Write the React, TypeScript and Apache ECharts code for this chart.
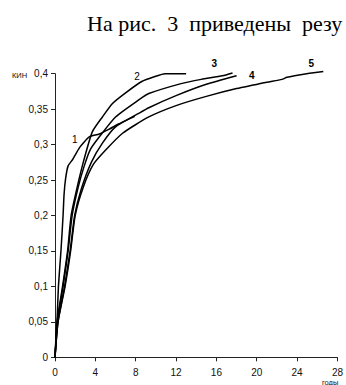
import React, { useEffect, useRef } from "react";
import * as echarts from "echarts";

const xTicks = [0, 4, 8, 12, 16, 20, 24, 28];
const yTicks = [0, 0.05, 0.1, 0.15, 0.2, 0.25, 0.3, 0.35, 0.4];

const curve1: [number, number][] = [
  [0, 0], [0.2, 0.05], [0.34, 0.1], [0.59, 0.15], [0.8, 0.2], [0.9, 0.23], [1.05, 0.252],
  [1.3, 0.27], [1.75, 0.279], [2.15, 0.289], [2.45, 0.296], [2.85, 0.303], [3.4, 0.311],
  [4.4, 0.315], [5.4, 0.322], [6.3, 0.329], [7.3, 0.336], [7.9, 0.34],
];
const curve2: [number, number][] = [
  [0, 0], [0.2, 0.05], [0.75, 0.1], [1.25, 0.15], [1.6, 0.2], [2.2, 0.24], [2.8, 0.275],
  [3.7, 0.318], [4.7, 0.339], [5.7, 0.358], [7, 0.373], [8.6, 0.389], [9.9, 0.396],
  [10.9, 0.4], [13, 0.4],
];
const curve3: [number, number][] = [
  [0, 0], [0.25, 0.05], [0.8, 0.1], [1.3, 0.15], [1.7, 0.2], [2.3, 0.24], [2.9, 0.27],
  [3.5, 0.293], [4.4, 0.311], [6, 0.339], [8.3, 0.363], [9.3, 0.372], [12.5, 0.386],
  [14.5, 0.392], [16.6, 0.397], [17.6, 0.401],
];
const curve4: [number, number][] = [
  [0, 0], [0.3, 0.05], [0.95, 0.1], [1.5, 0.15], [1.95, 0.2], [2.6, 0.237], [3.6, 0.275],
  [4.7, 0.302], [6, 0.325], [8.3, 0.344], [9.3, 0.352], [12, 0.369], [15, 0.385], [18, 0.397],
];
const curve5: [number, number][] = [
  [0, 0], [0.3, 0.05], [1.0, 0.1], [1.55, 0.15], [2.0, 0.2], [2.8, 0.24], [3.8, 0.272],
  [5, 0.292], [6.7, 0.316], [9.3, 0.339], [12, 0.355], [15, 0.368], [18, 0.379],
  [21, 0.388], [22.5, 0.392], [23, 0.395], [24.5, 0.399], [26.6, 0.403],
];
const curves = [curve1, curve2, curve3, curve4, curve5];

const curveLabels = ["1", "2", "3", "4", "5"];
const curveLabelPos: [number, number][] = [
  [1.95, 0.307], [8.13, 0.396], [15.8, 0.414], [19.5, 0.398], [25.4, 0.414],
];
const curveLabelBold = [false, false, true, true, true];

const NB = "\u00A0";
const headerText = `На рис.${NB}${NB}3${NB}${NB}приведены${NB}${NB}резу`;
const yName = "КИН";
const xName = "годы";

export default function App() {
  const ref = useRef<HTMLDivElement>(null);
  useEffect(() => {
    if (!ref.current) return;
    const chart = echarts.init(ref.current, null, { renderer: "svg" });
    const sans = "Liberation Sans";
    const serif = "Liberation Serif";
    chart.setOption({
      animation: false,
      backgroundColor: "#ffffff",
      grid: { left: 55, right: 4, top: 73.7, bottom: 27.7, containLabel: false },
      xAxis: {
        type: "value",
        min: 0,
        max: 28,
        interval: 4,
        splitLine: { show: false },
        axisLine: { lineStyle: { color: "#222", width: 1 } },
        axisTick: { show: true, length: 4, lineStyle: { color: "#222" } },
        axisLabel: {
          color: "#111",
          fontSize: 10,
          fontFamily: sans,
          margin: 10,
          customValues: xTicks,
        },
      },
      yAxis: {
        type: "value",
        min: 0,
        max: 0.4,
        interval: 0.05,
        splitLine: { show: false },
        axisLine: { show: true, lineStyle: { color: "#222", width: 1 } },
        axisTick: { show: true, length: 4, lineStyle: { color: "#222" } },
        axisLabel: {
          color: "#111",
          fontSize: 10,
          fontFamily: sans,
          margin: 7,
          formatter: (v: number) => {
            const found = yTicks.find((t) => Math.abs(t - v) < 1e-9);
            const val = found !== undefined ? found : v;
            return String(Number(val.toFixed(2))).replace(".", ",");
          },
        },
      },
      series: curves.map((c) => ({
        type: "line",
        data: c,
        showSymbol: false,
        symbol: "none",
        smooth: 0.2,
        clip: false,
        lineStyle: { color: "#000", width: 1.5 },
      })),
    });

    const labelGraphics = curveLabelPos.map((p, i) => {
      const px = chart.convertToPixel({ gridIndex: 0 }, p) as number[];
      return {
        type: "text",
        x: px[0],
        y: px[1],
        style: {
          text: curveLabels[i],
          fontFamily: sans,
          fontSize: 10,
          fontWeight: curveLabelBold[i] ? "bold" : "normal",
          fill: "#000",
          align: "center",
          verticalAlign: "middle",
        },
      };
    });

    chart.setOption({
      graphic: [
        {
          type: "text",
          left: 87,
          top: 12,
          style: {
            text: headerText,
            fontFamily: serif,
            fontSize: 22,
            fill: "#000",
          },
        },
        {
          type: "text",
          left: 12,
          top: 71,
          style: { text: yName, fontFamily: sans, fontSize: 7.5, fill: "#111" },
        },
        {
          type: "text",
          left: 322,
          top: 378,
          style: { text: xName, fontFamily: sans, fontSize: 7.5, fill: "#111" },
        },
        ...labelGraphics,
      ],
    });
    return () => chart.dispose();
  }, []);
  return (
    <div
      ref={ref}
      style={{ position: "fixed", left: 0, top: 0, width: 346, height: 385, overflow: "hidden" }}
    />
  );
}
